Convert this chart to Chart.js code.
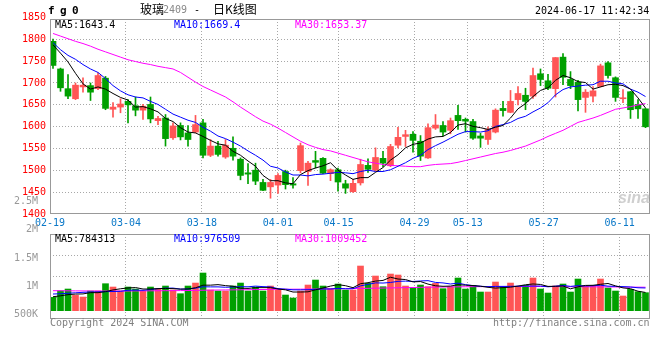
<!DOCTYPE html>
<html><head><meta charset="utf-8">
<script src="https://cdn.jsdelivr.net/npm/chart.js@4.4.1/dist/chart.umd.min.js"></script>
<style>
html,body{margin:0;padding:0;background:#fff;}
#wrap{position:relative;width:660px;height:360px;overflow:hidden;background:#fff;}
canvas{position:absolute;left:0;}
.t{position:absolute;white-space:pre;font:10px/10px 'DejaVu Sans Mono',monospace;color:#000;}
.cjk{position:absolute;white-space:pre;font:12px/12px 'Noto Sans CJK SC',sans-serif;color:#000;}
</style></head><body>
<div id="wrap">
<canvas id="pc" width="660" height="230" style="top:0"></canvas>
<canvas id="vc" width="660" height="170" style="top:190px"></canvas>
<div class="t" style="left:48px;top:5px;font:bold 11px/11px 'DejaVu Sans Mono';letter-spacing:-0.6px">f g 0</div>
<div class="cjk" style="left:140px;top:3px">玻璃</div>
<div class="t" style="left:163px;top:5px;color:#888">2409</div>
<div class="t" style="left:194px;top:5px">-</div>
<div class="cjk" style="left:213px;top:3px">日K线图</div>
<div class="t" style="left:535px;top:6px">2024-06-17 11:42:34</div>
<div class="t" style="left:55px;top:19.5px;color:#000">MA5:1643.4</div>
<div class="t" style="left:174px;top:19.5px;color:#0000ff">MA10:1669.4</div>
<div class="t" style="left:295px;top:19.5px;color:#ff00ff">MA30:1653.37</div>
<div class="t" style="left:55px;top:234px;color:#000">MA5:784313</div>
<div class="t" style="left:174px;top:234px;color:#0000ff">MA10:976509</div>
<div class="t" style="left:295px;top:234px;color:#ff00ff">MA30:1009452</div>
<div class="t" style="left:50px;top:318px;color:#808080">Copyright 2024 SINA.COM</div>
<div class="t" style="left:493px;top:318px;color:#808080">http://finance.sina.com.cn</div>
<div style="position:absolute;left:618px;top:190px;font:italic bold 16px/16px 'Liberation Sans',sans-serif;color:#cfcfcf;">sina</div>
</div>
<script>
// ---- data ----
const DATE_LABELS = ['02-19','03-04','03-18','04-01','04-15','04-29','05-13','05-27','06-11'];
const DATE_TICK_IDX = [0,10,20,30,38,48,55,65,75];
const PRICE_TICKS = [1400,1450,1500,1550,1600,1650,1700,1750,1800,1850];
const VOL_TICKS_K = [500,1000,1500,2000,2500];
const VOL_TICK_LABELS = ['500K','1M','1.5M','2M','2.5M'];

const OPEN  = [1795,1732,1687,1664,1691,1694,1687,1711,1640,1645,1658,1648,1638,1651,1614,1620,1575,1603,1586,1588,
               1609,1535,1556,1531,1551,1526,1495,1501,1473,1463,1467,1498,1470,1500,1498,1523,1528,1493,1502,1470,
               1452,1472,1512,1501,1528,1511,1558,1578,1583,1567,1529,1597,1603,1592,1626,1617,1612,1579,1571,1588,
               1642,1633,1662,1672,1670,1721,1705,1687,1759,1708,1702,1667,1670,1692,1746,1712,1664,1680,1651,1641];
const HIGH  = [1800,1734,1719,1700,1712,1700,1723,1715,1655,1664,1662,1668,1651,1668,1624,1628,1609,1609,1603,1626,
               1617,1571,1567,1571,1577,1529,1516,1517,1480,1480,1493,1501,1484,1563,1521,1544,1530,1504,1506,1478,
               1480,1526,1527,1552,1544,1560,1599,1592,1589,1580,1607,1628,1612,1620,1649,1620,1617,1585,1600,1641,
               1658,1683,1692,1688,1734,1732,1720,1758,1767,1726,1706,1685,1692,1743,1749,1714,1685,1681,1662,1642];
const LOW   = [1733,1681,1664,1662,1679,1660,1685,1639,1622,1632,1609,1625,1617,1609,1605,1556,1571,1570,1556,1586,
               1529,1532,1533,1528,1524,1479,1470,1468,1454,1437,1448,1458,1460,1495,1466,1506,1493,1477,1453,1448,
               1450,1467,1496,1499,1509,1509,1552,1555,1542,1523,1528,1594,1580,1584,1594,1588,1571,1553,1560,1586,
               1624,1632,1650,1639,1665,1694,1685,1668,1696,1687,1636,1633,1657,1691,1711,1658,1655,1619,1619,1598];
const CLOSE = [1740,1689,1670,1695,1695,1679,1717,1642,1645,1652,1650,1638,1647,1618,1619,1573,1602,1577,1571,1605,
               1535,1556,1537,1558,1533,1489,1492,1476,1455,1473,1489,1468,1467,1557,1517,1519,1494,1502,1474,1460,
               1471,1514,1503,1530,1517,1555,1576,1582,1569,1533,1598,1604,1588,1614,1614,1613,1574,1574,1594,1638,
               1637,1658,1676,1658,1717,1708,1688,1758,1713,1694,1662,1679,1682,1739,1717,1667,1666,1639,1641,1600];
const MA5   = [1787,1768,1748,1722,1698,1686,1691,1686,1676,1667,1661,1645,1646,1641,1634,1619,1612,1598,1588,1586,
               1578,1569,1561,1558,1544,1535,1522,1510,1489,1477,1477,1472,1470,1491,1500,1506,1511,1518,1501,1490,
               1480,1484,1484,1496,1507,1524,1536,1552,1560,1563,1572,1577,1578,1587,1604,1607,1601,1598,1594,1599,
               1603,1620,1641,1653,1669,1683,1689,1706,1717,1712,1703,1701,1686,1691,1696,1697,1694,1686,1666,1643];
const MA10  = [1792,1776,1763,1754,1742,1732,1724,1710,1694,1682,1673,1668,1666,1658,1651,1640,1629,1622,1615,1610,
               1599,1590,1579,1573,1565,1556,1545,1535,1524,1510,1506,1497,1490,1490,1488,1491,1492,1494,1496,1495,
               1493,1498,1501,1498,1498,1502,1510,1518,1528,1535,1548,1557,1565,1574,1583,1589,1589,1588,1591,1601,
               1605,1610,1619,1624,1634,1643,1655,1673,1685,1691,1693,1695,1696,1704,1704,1700,1698,1686,1679,1669];
const MA30  = [1813,1807,1801,1795,1790,1784,1777,1771,1765,1759,1753,1749,1745,1742,1738,1735,1732,1724,1713,1702,
               1692,1684,1676,1668,1657,1645,1634,1623,1613,1606,1597,1587,1577,1567,1559,1553,1548,1545,1540,1535,
               1530,1525,1520,1517,1514,1512,1511,1510,1509,1509,1512,1514,1515,1516,1519,1523,1527,1531,1535,1539,
               1542,1546,1551,1556,1563,1570,1578,1585,1592,1601,1610,1615,1620,1626,1633,1640,1643,1646,1650,1653];
// volume, in thousands
const VOL_K = [573,860,932,659,588,846,846,1161,1018,846,1018,932,846,1018,932,1061,889,731,1061,1189,
               1620,889,846,846,1061,1189,846,1018,846,1061,889,674,545,846,1104,1319,1061,960,1147,889,
               889,1921,1175,1491,1032,1577,1534,1061,989,1104,1032,1175,946,1032,1405,932,1089,803,803,1233,
               1032,1189,1032,1089,1405,932,760,1061,1147,803,1362,1061,1089,1362,975,846,631,917,817,774];
const VMA5_K = [600,640,690,715,722,777,774,820,892,943,978,995,932,932,949,958,949,926,935,986,
               1098,1098,1121,1078,1052,966,958,992,992,992,932,898,803,803,812,898,975,1058,1118,1075,
               989,1161,1204,1273,1302,1439,1362,1339,1239,1253,1144,1072,1049,1058,1118,1098,1081,1052,1006,972,
               992,1012,1058,1115,1149,1129,1044,1049,1061,941,1027,1087,1092,1135,1170,1067,981,946,837,784];
const VMA10_K = [717,730,750,770,790,800,810,820,826,833,878,885,876,912,946,968,972,929,934,968,
               1028,1024,1024,1007,1019,1032,1028,1057,1035,1022,949,928,898,898,902,915,937,931,961,944,
               944,1068,1131,1196,1189,1214,1262,1272,1256,1278,1292,1217,1194,1149,1186,1121,1077,1051,1032,1045,
               1045,1047,1055,1061,1061,1061,1028,1054,1088,1045,1078,1066,1071,1098,1056,1047,1034,1019,986,977];
const VMA30_K = [860,858,855,852,850,848,846,845,845,846,848,850,852,855,858,860,862,865,868,872,
               880,884,888,892,896,900,904,908,912,916,920,922,924,926,928,930,934,938,942,946,
               950,956,962,968,974,980,986,992,998,1004,1010,1014,1018,1022,1026,1030,1032,1034,1036,1038,
               1040,1040,1040,1040,1040,1040,1038,1036,1034,1032,1030,1028,1026,1024,1022,1020,1017,1014,1012,1009];

// ---- styling ----
const RED = '#ff5555', GREEN = '#00a000', GRID = '#a8a8a8';
const FONT = {family: "'DejaVu Sans Mono', monospace", size: 10};
const idx = CLOSE.map((_, i) => i);
const candleColor = idx.map(i => CLOSE[i] >= OPEN[i] ? RED : GREEN);
const pts = arr => arr.map((v, i) => ({x: i, y: v}));

const frame = {id: 'frame', afterDraw(chart) {
  const {ctx, chartArea: a} = chart;
  ctx.save(); ctx.strokeStyle = '#999'; ctx.lineWidth = 1;
  ctx.strokeRect(a.left + 0.5, a.top + 0.5, a.right - a.left - 1, a.bottom - a.top - 1);
  ctx.restore();
}};

const lineDs = (arr, color, yId) => ({type: 'line', data: pts(arr), borderColor: color, borderWidth: 1,
  pointRadius: 0, tension: 0, order: 0, xAxisID: 'x', yAxisID: yId});

const common = {responsive: false, animation: false, devicePixelRatio: 1, events: [],
  plugins: {legend: {display: false}, tooltip: {enabled: false}, title: {display: false}}};

const P_MIN = 1401, P_MAX = 1846;

new Chart(document.getElementById('pc'), {
  data: {datasets: [
    lineDs(MA5, '#000000', 'y'),
    lineDs(MA10, '#0000ff', 'y'),
    lineDs(MA30, '#ff00ff', 'y'),
    {type: 'bar', data: idx.map(i => ({x: i, y: [OPEN[i], CLOSE[i]]})), backgroundColor: candleColor,
     barThickness: 6, grouped: false, minBarLength: 1, order: 1, xAxisID: 'x', yAxisID: 'y'},
    {type: 'bar', data: idx.map(i => ({x: i, y: [LOW[i], HIGH[i]]})), backgroundColor: candleColor,
     barThickness: 1, grouped: false, order: 2, xAxisID: 'x', yAxisID: 'y'}
  ]},
  options: Object.assign({}, common, {
    layout: {padding: {top: 19, right: 10, bottom: 0, left: 0}},
    scales: {
      x: {type: 'linear', display: false, min: -0.4, max: 79.6, offset: false},
      xg: {type: 'linear', position: 'bottom', min: 0, max: 79, offset: false,
        afterBuildTicks: s => { s.ticks = DATE_TICK_IDX.map(v => ({value: v})); },
        afterFit: s => { s.height = 16; },
        ticks: {autoSkip: false, maxRotation: 0, padding: 3, color: '#0a78c8', font: FONT,
                callback: (v, k) => DATE_LABELS[k]},
        grid: {color: GRID, drawTicks: false, offset: false}, border: {display: false, dash: [1, 2]}},
      y: {type: 'linear', position: 'left', min: P_MIN, max: P_MAX, beginAtZero: false,
        afterBuildTicks: s => { s.ticks = PRICE_TICKS.map(v => ({value: v})); },
        afterFit: s => { s.width = 50; },
        ticks: {autoSkip: false, padding: 4, color: '#ff0000', font: FONT, callback: v => String(v)},
        grid: {drawTicks: false, color: c => (c.tick && (c.tick.value < P_MIN || c.tick.value > P_MAX)) ? 'rgba(0,0,0,0)' : GRID},
        border: {display: false, dash: [1, 2]}}
    }
  }),
  plugins: [frame]
});

new Chart(document.getElementById('vc'), {
  data: {datasets: [
    lineDs(VMA5_K, '#000000', 'yv'),
    lineDs(VMA10_K, '#0000ff', 'yv'),
    lineDs(VMA30_K, '#ff00ff', 'yv'),
    {type: 'bar', data: idx.map(i => ({x: i, y: VOL_K[i]})), backgroundColor: candleColor,
     barThickness: 6, grouped: false, order: 1, xAxisID: 'x', yAxisID: 'yv'}
  ]},
  options: Object.assign({}, common, {
    layout: {padding: {top: 44, right: 10, bottom: 41, left: 0}},
    scales: {
      x: {type: 'linear', display: false, min: -0.4, max: 79.6, offset: false},
      xg: {type: 'linear', position: 'bottom', min: 0, max: 79, offset: false,
        afterBuildTicks: s => { s.ticks = DATE_TICK_IDX.map(v => ({value: v})); },
        afterFit: s => { s.height = 0; },
        ticks: {display: false},
        grid: {color: GRID, drawTicks: false, offset: false}, border: {display: false, dash: [1, 2]}},
      yv: {type: 'linear', display: false, min: -357, max: 3298},
      yg: {type: 'linear', position: 'left', min: 0, max: 4,
        afterBuildTicks: s => { s.ticks = [1, 2, 3].map(v => ({value: v})); },
        afterFit: s => { s.width = 0; },
        ticks: {display: false},
        grid: {color: GRID, drawTicks: false}, border: {display: false, dash: [1, 2]}},
      yl: {type: 'linear', position: 'left', min: 424, max: 1926,
        afterBuildTicks: s => { s.ticks = VOL_TICKS_K.map(v => ({value: v})); },
        afterFit: s => { s.width = 50; },
        ticks: {autoSkip: false, padding: 4, color: '#999999', font: FONT, callback: (v, k) => VOL_TICK_LABELS[k]},
        grid: {display: false}, border: {display: false}}
    }
  }),
  plugins: [frame]
});
</script>
</body></html>
